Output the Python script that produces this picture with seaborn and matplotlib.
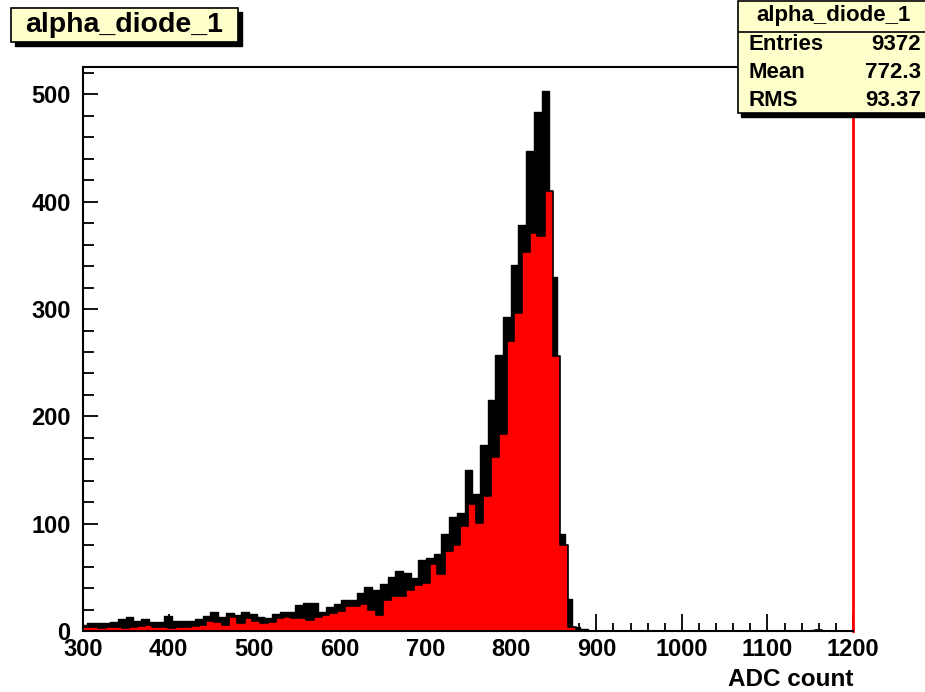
import numpy as np
import pandas as pd
import matplotlib
matplotlib.use("Agg")
from matplotlib import pyplot as plt
from matplotlib.patches import Rectangle
from matplotlib.lines import Line2D
from matplotlib.ticker import MultipleLocator
import seaborn as sns


# histogram contents (counts per bin, 9 ADC channels per bin)

bin_width = 9
red_start = 300
black_start = 296

red_counts = [
    4, 4, 3, 4, 4, 3, 4, 5, 6, 4,
    4, 3, 4, 4, 5, 6, 9, 8, 6, 13,
    7, 12, 9, 7, 8, 12, 13, 12, 12, 10,
    13, 15, 17, 19, 23, 23, 25, 20, 15, 29,
    33, 33, 38, 43, 45, 62, 53, 75, 80, 98,
    118, 101, 126, 162, 184, 270, 296, 353, 371, 368,
    410, 256, 80, 4, 0, 0, 0, 0, 0, 0,
    0, 0, 0, 0, 0, 0, 0, 0, 0, 0,
    0, 0, 0, 0, 0, 0, 0, 0, 0, 0,
    0, 0, 0, 0, 0, 1, 0, 0, 0, 0,
]

black_counts = [
    6, 7, 7, 7, 8, 11, 13, 9, 11, 8,
    8, 14, 9, 9, 9, 11, 14, 18, 13, 17,
    15, 18, 16, 13, 12, 16, 18, 18, 24, 26,
    26, 18, 22, 25, 29, 29, 35, 41, 38, 44,
    50, 56, 54, 49, 66, 68, 72, 90, 106, 110,
    150, 128, 173, 215, 257, 293, 341, 378, 447, 484,
    503, 330, 90, 30, 4, 2, 0, 0, 0, 0,
    0, 0, 0, 0, 0, 0, 0, 0, 0, 0,
    0, 0, 0, 0, 0, 0, 0, 0, 0, 0,
    0, 0, 0, 0, 0, 1, 0, 0, 0, 0,
]

hist_name = "alpha_diode_1"
stats_names = ["Entries", "Mean", "RMS"]
stats_values = ["9372", "772.3", "93.37"]


red = pd.DataFrame({"adc": red_start + bin_width * (np.arange(len(red_counts)) + 0.5),
                    "n": red_counts})
black = pd.DataFrame({"adc": black_start + bin_width * (np.arange(len(black_counts)) + 0.5),
                      "n": black_counts})


sns.set_style("ticks")
plt.rcParams["font.family"] = ["Liberation Sans", "DejaVu Sans"]
plt.rcParams["font.weight"] = "bold"
for k in ["text.color", "axes.labelcolor", "xtick.color", "ytick.color", "axes.edgecolor"]:
    plt.rcParams[k] = "black"

W, H = 925, 692
fig = plt.figure(figsize=(W / 100, H / 100), dpi=100)
ax = fig.add_axes([83 / W, 61 / H, 770 / W, 564 / H])

sns.histplot(data=black, x="adc", weights="n", binwidth=bin_width,
             binrange=(black_start, black_start + bin_width * len(black_counts)),
             element="step", fill=True, color="black", alpha=1, linewidth=1, ax=ax)
sns.histplot(data=red, x="adc", weights="n", binwidth=bin_width,
             binrange=(red_start, red_start + bin_width * len(red_counts)),
             element="step", fill=True, facecolor="#ff0000", edgecolor="black",
             alpha=1, linewidth=1.2, ax=ax)

ax.set_xlim(300, 1200)
ax.set_ylim(0, 525.6)
ax.set_ylabel("")
ax.set_xlabel("ADC count", loc="right", fontsize=17.5, fontweight="bold", labelpad=5)

ax.xaxis.set_major_locator(MultipleLocator(100))
ax.xaxis.set_minor_locator(MultipleLocator(20))
ax.yaxis.set_major_locator(MultipleLocator(100))
ax.yaxis.set_minor_locator(MultipleLocator(20))
ax.tick_params(which="both", direction="in", top=False, right=False, width=1.3,
               labelsize=17, colors="black")
ax.tick_params(axis="x", which="major", length=12, pad=5)
ax.tick_params(axis="x", which="minor", length=6)
ax.tick_params(axis="y", which="major", length=11, pad=9)
ax.tick_params(axis="y", which="minor", length=8)
for lab in ax.get_xticklabels() + ax.get_yticklabels():
    lab.set_fontweight("bold")

for s in ax.spines.values():
    s.set_linewidth(1.5)
    s.set_visible(True)
    s.set_color("black")
ax.spines["right"].set_color("red")
ax.spines["right"].set_linewidth(2)


# pave boxes (pixel coords from the top-left corner)

def box(x0, y0, x1, y1, **kw):
    r = Rectangle((x0 / W, 1 - y1 / H), (x1 - x0) / W, (y1 - y0) / H,
                  transform=fig.transFigure, **kw)
    fig.add_artist(r)

pave = "#ffffcc"

# title box
box(15, 12, 242, 46, facecolor="black", edgecolor="black", zorder=5)
box(11, 8, 238, 42, facecolor=pave, edgecolor="black", linewidth=1.2, zorder=6)
fig.text(124.5 / W, 1 - 25 / H, hist_name, ha="center", va="center",
         fontsize=20.5, fontweight="bold", color="black", zorder=7)

# stats box
box(741, 5, 930, 117, facecolor="black", edgecolor="black", zorder=5)
box(738, 1, 927, 113, facecolor=pave, edgecolor="black", linewidth=1.2, zorder=6)
fig.add_artist(Line2D([738 / W, 1], [1 - 31.5 / H, 1 - 31.5 / H],
                      transform=fig.transFigure, color="black", linewidth=1.2, zorder=7))
fig.text(834 / W, 1 - 16 / H, hist_name, ha="center", va="center",
         fontsize=16, fontweight="bold", color="black", zorder=7)
for i, (nm, val) in enumerate(zip(stats_names, stats_values)):
    yy = 1 - (44 + 28 * i) / H
    fig.text(748 / W, yy, nm, ha="left", va="center", fontsize=16,
             fontweight="bold", color="black", zorder=7)
    fig.text(921 / W, yy, val, ha="right", va="center", fontsize=16,
             fontweight="bold", color="black", zorder=7)

fig.savefig("out.png", dpi=100, facecolor="white")
